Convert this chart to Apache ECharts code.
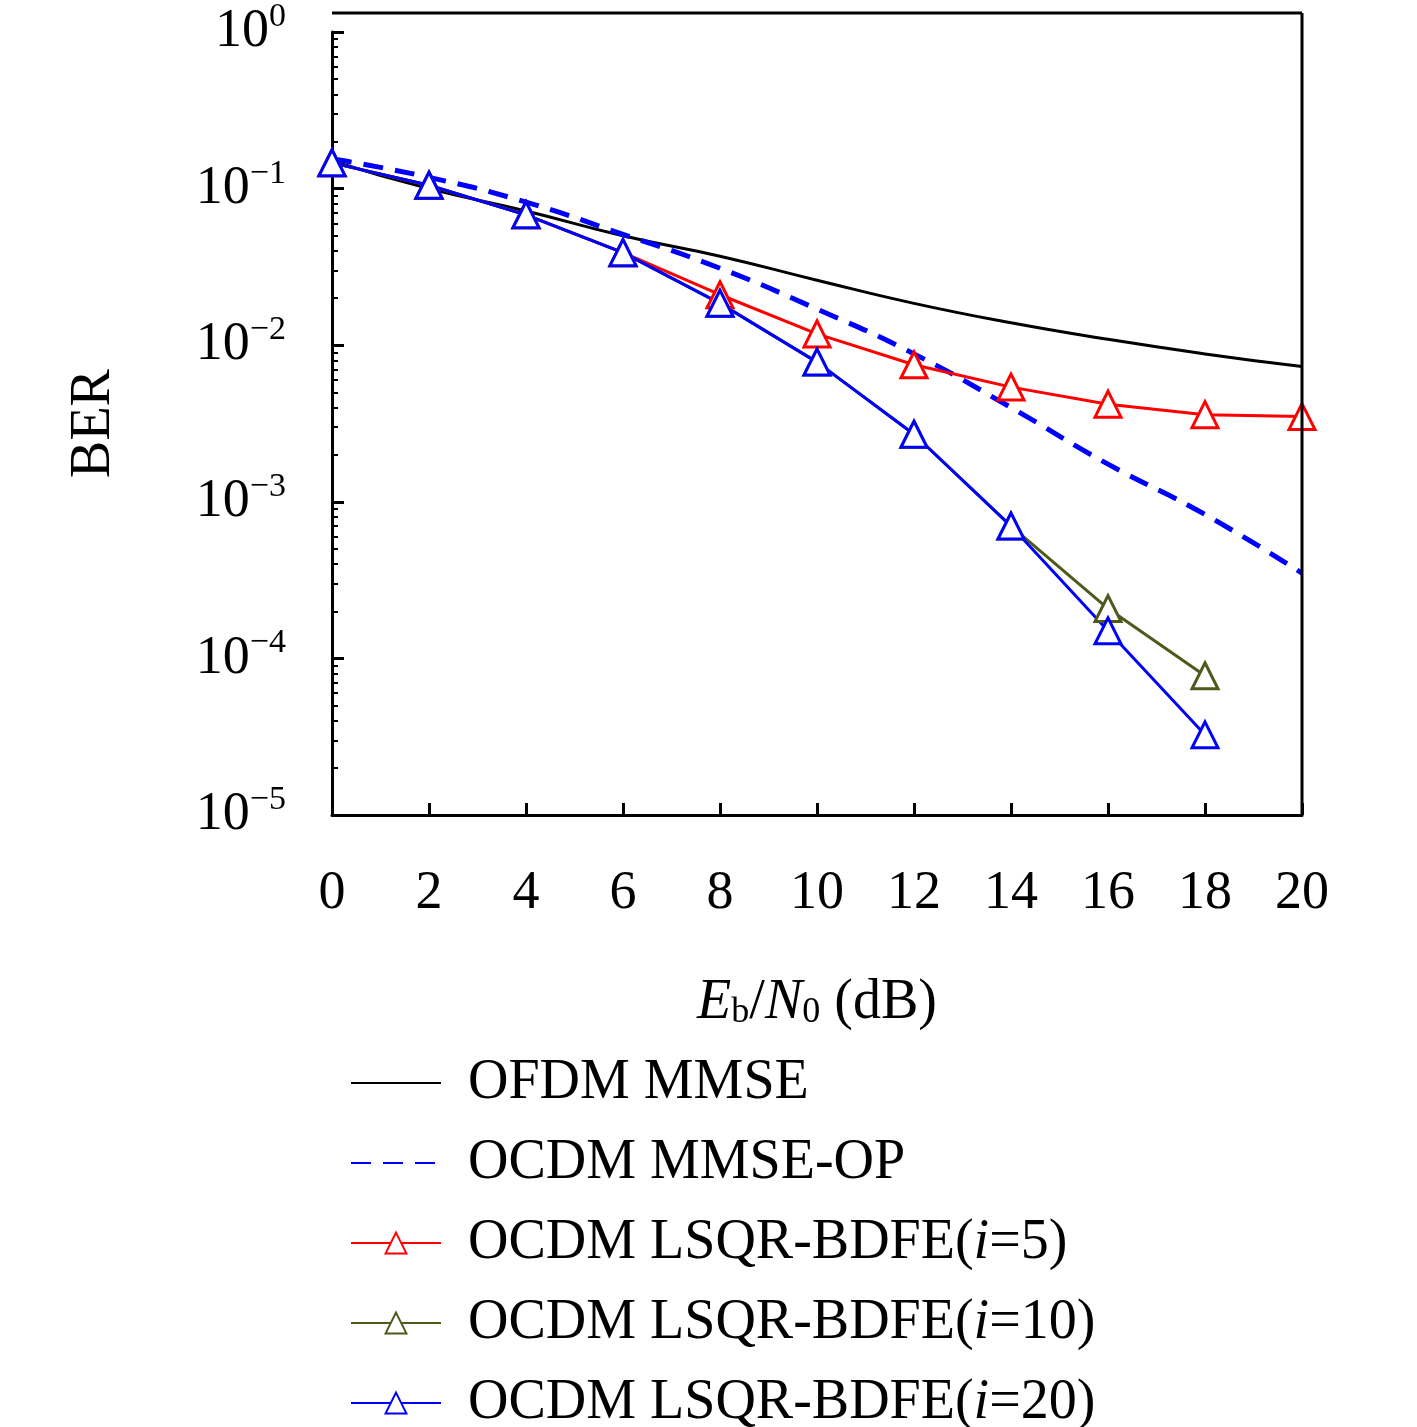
<!DOCTYPE html>
<html><head><meta charset="utf-8">
<script src="https://cdn.jsdelivr.net/npm/echarts@6/dist/echarts.min.js"></script>
<style>html,body{margin:0;background:#fff}#c{width:1417px;height:1427px}</style>
</head><body><div id="c"></div>
<script>
const snr = [0,2,4,6,8,10,12,14,16,18,20];
const ofdmMmse = [0.150,0.10,0.072,0.050,0.037,0.026,0.0185,0.0139,0.0109,0.0088,0.0073];
const ocdmMmseOp = [0.155,0.118,0.082,0.051,0.031,0.0170,0.0088,0.0040,0.00174,0.00083,0.00035];
const lsqr5 = [0.146,0.105,0.068,0.039,0.021,0.0118,0.0075,0.0054,0.0042,0.0036,0.0035];
const lsqr10 = [0.146,0.105,0.068,0.039,0.0185,0.0078,0.0027,0.00070,0.000208,0.0000775];
const lsqr20 = [0.146,0.105,0.068,0.039,0.0185,0.0078,0.0027,0.00070,0.000150,0.0000325];

const F = '"Liberation Serif","DejaVu Serif",serif';
const pairs = a => a.map((v,i)=>[snr[i],v]);
function triSeries(name, data, col){
  return {name,type:'line',data:pairs(data),color:col,symbol:'triangle',symbolSize:26,
    lineStyle:{width:3,color:col},itemStyle:{color:'#fff',borderColor:col,borderWidth:3}};
}
const chart = echarts.init(document.getElementById('c'));
chart.setOption({
  animation:false,
  textStyle:{fontFamily:F},
  grid:{left:332,right:115,top:13,bottom:612},
  xAxis:{type:'value',min:0,max:20,interval:2,
    axisLine:{lineStyle:{color:'#000',width:3}},
    axisTick:{inside:true,length:12,lineStyle:{color:'#000',width:3}},
    axisLabel:{color:'#000',fontSize:54,fontFamily:F,margin:52},
    splitLine:{show:false},
    name:'{i|E}{s|b}{n|/}{i|N}{s|0}{n| (dB)}',nameLocation:'middle',nameGap:160,
    nameTextStyle:{rich:{i:{fontSize:56,fontStyle:'italic',fontFamily:F,color:'#000'},
      s:{fontSize:36,fontFamily:F,color:'#000',verticalAlign:'bottom',padding:[20,0,0,0]},
      n:{fontSize:56,fontFamily:F,color:'#000'}}}},
  yAxis:{type:'log',logBase:10,min:1e-5,max:1,
    axisLine:{lineStyle:{color:'#000',width:3}},
    axisTick:{inside:true,length:12,lineStyle:{color:'#000',width:3}},
    minorTick:{show:true,splitNumber:9,length:6,lineStyle:{color:'#000',width:2}},
    axisLabel:{margin:46,formatter:v=>{const e=Math.round(Math.log10(v));return '{b|10}{e|'+(e===0?'0':'−'+(-e))+'}';},
      rich:{b:{fontSize:54,fontFamily:F,color:'#000'},e:{fontSize:34,fontFamily:F,color:'#000',verticalAlign:'top',padding:[0,0,30,0]}}},
    splitLine:{show:false},
    name:'BER',nameLocation:'middle',nameGap:210,nameRotate:90,
    nameTextStyle:{fontSize:56,fontFamily:F,color:'#000'}},
  legend:{orient:'vertical',left:345,top:1050,height:420,itemWidth:90,itemHeight:26,itemGap:24,
    textStyle:{fontSize:56,fontFamily:F,color:'#000',padding:[0,0,0,22],
      rich:{i:{fontSize:56,fontStyle:'italic',fontFamily:F,color:'#000'}}},
    formatter:n=>n.replace('(i=','({i|i}='),
    data:[{name:'OFDM MMSE',itemStyle:{opacity:0}},{name:'OCDM MMSE-OP',itemStyle:{opacity:0}},
      'OCDM LSQR-BDFE(i=5)','OCDM LSQR-BDFE(i=10)','OCDM LSQR-BDFE(i=20)']},
  series:[
    {name:'OFDM MMSE',type:'line',smooth:true,data:pairs(ofdmMmse),showSymbol:false,color:'#000',lineStyle:{width:3,color:'#000'}},
    {name:'OCDM MMSE-OP',type:'line',smooth:true,data:pairs(ocdmMmseOp),showSymbol:false,color:'#0000ff',lineStyle:{width:5,type:[20,12],color:'#0000ff'}},
    triSeries('OCDM LSQR-BDFE(i=5)',lsqr5,'#ff0000'),
    triSeries('OCDM LSQR-BDFE(i=10)',lsqr10,'#4d5a1a'),
    triSeries('OCDM LSQR-BDFE(i=20)',lsqr20,'#0000ff')
  ],
  graphic:[
    {type:'line',shape:{x1:332,y1:13,x2:1302,y2:13},style:{stroke:'#000',lineWidth:3},z:100},
    {type:'line',shape:{x1:1302,y1:13,x2:1302,y2:815},style:{stroke:'#000',lineWidth:3},z:100}
  ]
});
</script></body></html>
